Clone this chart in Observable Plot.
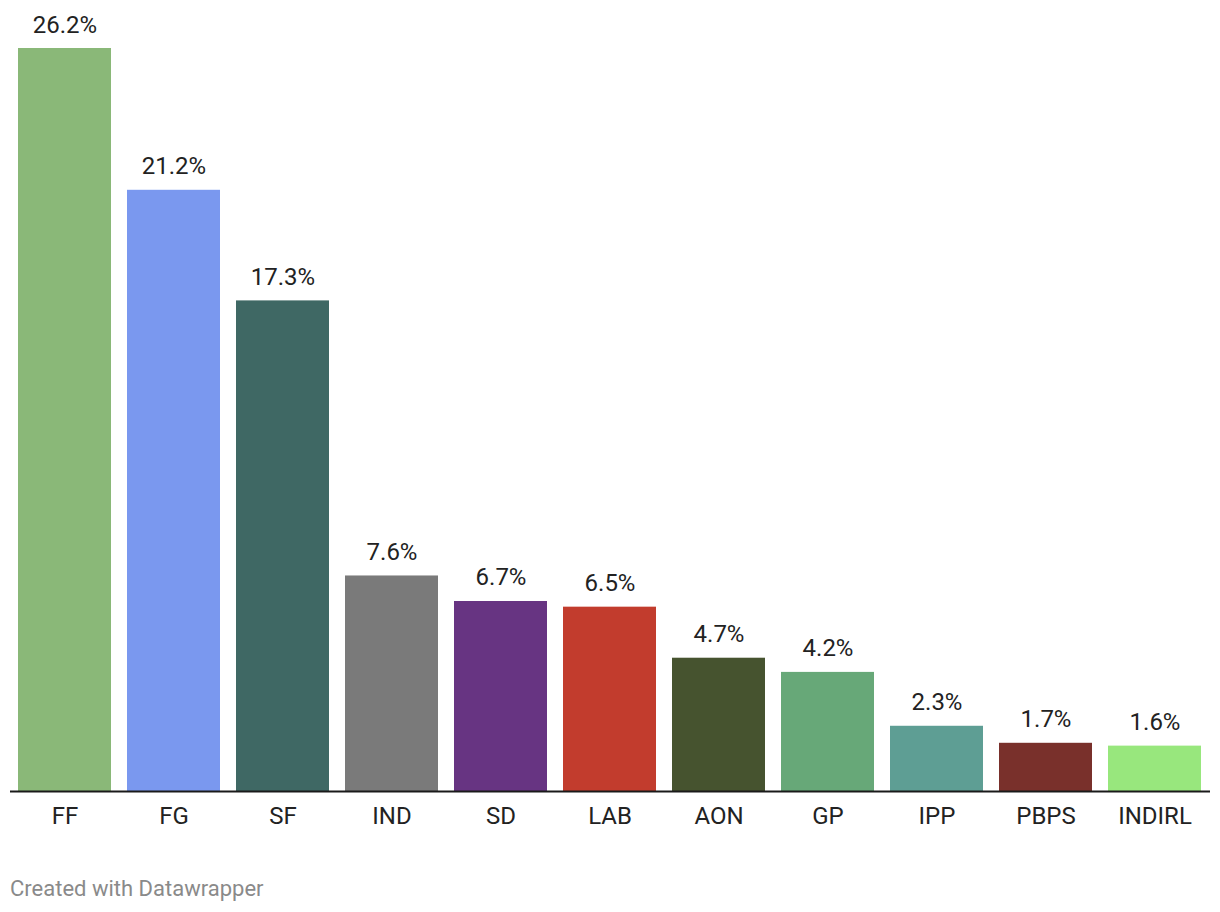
<!DOCTYPE html>
<html>
<head>
<meta charset="utf-8">
<script src="https://cdn.jsdelivr.net/npm/d3@7"></script>
<script src="https://cdn.jsdelivr.net/npm/@observablehq/plot@0.6"></script>
<style>
  html, body { margin: 0; padding: 0; background: #fff; }
  body { font-family: Roboto, "Noto Sans", sans-serif; width: 1220px; height: 912px; position: relative; overflow: hidden; }
  #chart svg { display: block; }
  #footer { position: absolute; left: 10px; top: 876px; font-size: 22px; color: #8a8a8a; font-family: Roboto, sans-serif; }
</style>
</head>
<body>
<div id="chart"></div>
<div id="footer">Created with Datawrapper</div>
<script>
const parties = ["FF", "FG", "SF", "IND", "SD", "LAB", "AON", "GP", "IPP", "PBPS", "INDIRL"];
const shares = [26.2, 21.2, 17.3, 7.6, 6.7, 6.5, 4.7, 4.2, 2.3, 1.7, 1.6];
const colors = ["#8ab878", "#7a98ef", "#3f6864", "#7a7a7a", "#673482", "#c23c2d", "#46532f", "#67a878", "#5e9e94", "#79302b", "#98e77d"];

const data = parties.map((p, i) => ({party: p, share: shares[i]}));

const chart = Plot.plot({
  width: 1220,
  height: 850,
  marginLeft: 10,
  marginRight: 10,
  marginTop: 48,
  marginBottom: 59,
  style: {fontFamily: "Roboto, sans-serif", fontSize: "24px", color: "#222", background: "#fff"},
  x: {domain: parties, paddingInner: 0.146, paddingOuter: 0.073, label: null},
  y: {domain: [0, 26.2], axis: null},
  color: {domain: parties, range: colors},
  marks: [
    Plot.barY(data, {x: "party", y: "share", fill: "party"}),
    Plot.text(data, {x: "party", y: "share", text: d => d.share.toFixed(1) + "%", lineAnchor: "bottom", dy: -16, fill: "#222", fontSize: 24}),
    Plot.ruleY([0], {stroke: "#1a1a1a", strokeWidth: 2}),
    Plot.axisX({tickSize: 0, tickPadding: 15, fontSize: 24, label: null, fill: "#222"})
  ]
});
document.getElementById("chart").appendChild(chart);
</script>
</body>
</html>
